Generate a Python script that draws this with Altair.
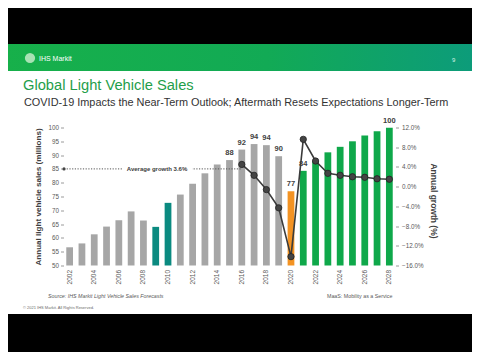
import altair as alt
import pandas as pd

# ---------------- data ----------------
years = list(range(2002, 2029))
sales = [56.6, 58.0, 61.3, 64.1, 66.4, 69.6, 66.3, 64.0, 72.7, 75.7, 79.6, 83.4, 86.6, 88.2,
         92.0, 94.0, 93.6, 89.6, 76.9, 84.3, 87.8, 91.0, 93.0, 95.0, 97.1, 98.6, 99.9]
groups = (["history"] * 7 + ["recession"] * 2 + ["history"] * 9 + ["covid"] + ["forecast"] * 8)
group_names = ["history", "recession", "covid", "forecast"]
group_colors = ["#a6a6a6", "#0b8a80", "#f39323", "#0fa84a"]

growth_years = list(range(2016, 2029))
growth = [4.5, 2.3, -0.6, -4.3, -14.2, 9.6, 5.2, 2.7, 2.3, 2.0, 1.9, 1.6, 1.5]
avg_growth = 3.6

label_years = [2015, 2016, 2017, 2018, 2019, 2020, 2021, 2028]
tick_years = list(range(2002, 2029, 2))
sales_ticks = list(range(50, 101, 5))
growth_ticks = list(range(-16, 13, 4))
sales_domain = [50, 100]
growth_domain = [-16, 12]

title_text = "Global Light Vehicle Sales"
subtitle_text = "COVID-19 Impacts the Near-Term Outlook; Aftermath Resets Expectations Longer-Term"
source_text = "Source: IHS Markit Light Vehicle Sales Forecasts"
maas_text = "MaaS: Mobility as a Service"
copy_text = "\u00a9 2021 IHS Markit. All Rights Reserved."
avg_text = "Average growth 3.6%"

FONT = "Liberation Sans"
df = pd.DataFrame({"year": years, "sales": sales, "group": groups})
gdf = pd.DataFrame({"year": growth_years, "growth": growth})
ldf = df[df["year"].isin(label_years)]
adf = pd.DataFrame({"g": [avg_growth]})
one = pd.DataFrame({"a": [0]})

x_scale = alt.Scale(paddingInner=0.45, paddingOuter=0.225)
x_axis = alt.Axis(values=tick_years, labelAngle=-90, labelFontSize=6.5,
                  labelColor="#595959", labelFont=FONT, ticks=False,
                  domain=False, title=None, labelPadding=4, labelOverlap=False)

sales_scale = alt.Scale(domain=sales_domain, zero=False, nice=False)
growth_scale = alt.Scale(domain=growth_domain, zero=False, nice=False)

sales_axis = alt.Axis(values=sales_ticks, title="Annual light vehicle sales (millions)",
                      labelFontSize=6.3, labelColor="#595959", labelFont=FONT,
                      labelOverlap=False,
                      tickSize=3, tickColor="#9a9a9a", domain=False, grid=False,
                      labelPadding=2, titleFont=FONT, titleFontSize=8.1,
                      titleFontWeight="bold", titleColor="#404040", titleAngle=-90,
                      titleX=-25.5, titleY=69, titleAlign="center",
                      titleBaseline="middle")
growth_axis = alt.Axis(orient="right", values=growth_ticks,
                       labelExpr="format(datum.value, '.1f') + '%'",
                       labelOverlap=False,
                       title="Annual growth (%)", labelFontSize=6.3, labelColor="#595959",
                       labelFont=FONT, tickSize=3, tickColor="#9a9a9a", domain=False,
                       grid=False, labelPadding=3, titleFont=FONT, titleFontSize=8.5,
                       titleFontWeight="bold", titleColor="#404040", titleAngle=90,
                       titleX=37.5, titleY=73, titleAlign="center",
                       titleBaseline="middle")


def X():
    return alt.X("year:O", scale=x_scale, axis=x_axis)


bars = alt.Chart(df).mark_bar().encode(
    x=X(),
    y=alt.Y("sales:Q", scale=sales_scale, axis=sales_axis),
    y2=alt.datum(sales_domain[0]),
    color=alt.Color("group:N", scale=alt.Scale(domain=group_names, range=group_colors),
                    legend=None),
)

labels = alt.Chart(ldf).mark_text(dy=-3, baseline="bottom", fontWeight="bold", fontSize=7.5,
                                  color="#404040", font=FONT).encode(
    x=X(),
    y=alt.Y("sales:Q", scale=sales_scale, axis=sales_axis),
    text=alt.Text("sales:Q", format=".0f"),
)

left = alt.layer(bars, labels)

line = alt.Chart(gdf).mark_line(color="#3b3b3b", strokeWidth=1.6).encode(
    x=X(),
    y=alt.Y("growth:Q", scale=growth_scale, axis=growth_axis),
)
pts = alt.Chart(gdf).mark_point(filled=True, size=40, color="#444444", stroke="#222222",
                                strokeWidth=0.8, opacity=1).encode(
    x=X(),
    y=alt.Y("growth:Q", scale=growth_scale, axis=growth_axis),
)

avg_rule = alt.Chart(adf).mark_rule(color="#555555", strokeWidth=1, strokeDash=[1.2, 1.5]).encode(
    x=alt.value(0.5),
    x2=alt.value({"expr": "scale('x', 2016) + bandwidth('x') / 2"}),
    y=alt.Y("g:Q", scale=growth_scale, axis=growth_axis),
)
avg_dot = alt.Chart(adf).mark_point(filled=True, size=10, color="#444444", opacity=1).encode(
    x=alt.value(0.5),
    y=alt.Y("g:Q", scale=growth_scale, axis=growth_axis),
)
avg_bg = alt.Chart(one).mark_rect(color="white").encode(
    x=alt.value(59.5), x2=alt.value(128.5), y=alt.value(37), y2=alt.value(46))
avg_lbl = alt.Chart(one).mark_text(text=avg_text, fontSize=6, fontWeight="bold",
                                   color="#404040", font=FONT, align="center",
                                   baseline="middle").encode(
    x=alt.value(93.5), y=alt.value(41.5))

right = alt.layer(avg_rule, avg_dot, avg_bg, avg_lbl, line, pts)


def band(x1, x2, y1, y2, color):
    return alt.Chart(one).mark_rect(color=color).encode(
        x=alt.value(x1), x2=alt.value(x2), y=alt.value(y1), y2=alt.value(y2))


def txt(text, x, y, size, color, weight="normal", style="normal", align="left"):
    return alt.Chart(one).mark_text(text=text, fontSize=size, color=color, font=FONT,
                                    fontWeight=weight, fontStyle=style, align=align,
                                    baseline="alphabetic").encode(
        x=alt.value(x), y=alt.value(y))


header_grad = alt.LinearGradient(
    gradient="linear", x1=0, x2=1, y1=0, y2=0,
    stops=[alt.GradientStop(color="#17b04a", offset=0),
           alt.GradientStop(color="#12aa55", offset=0.55),
           alt.GradientStop(color="#0c9b7c", offset=1)])

top_black = band(-60, 420, -125, -83.5, "#000000")
bottom_black = band(-60, 420, 186.5, 230, "#000000")
header = alt.Chart(one).mark_rect(color=header_grad).encode(
    x=alt.value(-60), x2=alt.value(420), y=alt.value(-83.5), y2=alt.value(-56.5))
logo = alt.Chart(one).mark_point(filled=True, size=105, color="#a8e2b4", opacity=1).encode(
    x=alt.value(-33.5), y=alt.value(-69.5))

slide = alt.layer(
    top_black, bottom_black, header, logo,
    txt("IHS Markit", -24.5, -66.5, 7, "#ffffff"),
    txt("9", 388.5, -65.5, 6, "#d8f3e6"),
    txt(title_text, -40.5, -37.5, 14.7, "#1f9e4a"),
    txt(subtitle_text, -39.5, -22, 10.9, "#333333"),
    txt(source_text, -15.5, 170.5, 5.3, "#595959", style="italic"),
    txt(maas_text, 263.5, 170.5, 5.3, "#595959"),
    txt(copy_text, -40.5, 181.5, 4, "#6b6b6b"),
)

chart = alt.layer(slide, left, right).resolve_scale(y="independent").properties(
    width=332, height=138,
    padding={"left": 55.5, "top": 119.5, "right": 76.5, "bottom": 86.5},
    autosize=alt.AutoSizeParams(type="none"),
    background="white",
).configure_view(strokeWidth=0).configure_axis(labelOverlap=False)

chart.save("out.html", embed_options={"renderer": "svg", "actions": False})
